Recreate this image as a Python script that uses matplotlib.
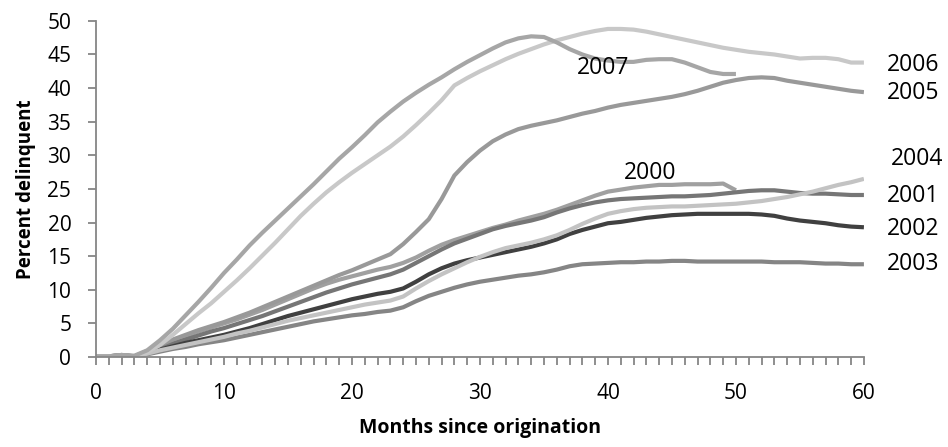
import numpy as np
import matplotlib
matplotlib.use("Agg")
import matplotlib.pyplot as plt

plt.rcParams['font.family'] = ['Open Sans', 'DejaVu Sans']

# months since origination
months = np.arange(0, 61)

# percent delinquent by vintage
y2000 = [0.1, 0.1, 0.3, 0.1, 0.8, 1.6, 2.4, 3.1, 3.8, 4.4, 5.0, 5.6, 6.3, 7.0, 7.8, 8.6,
         9.4, 10.2, 10.9, 11.5, 12.0, 12.5, 13.0, 13.4, 14.0, 14.8, 15.8, 16.7, 17.4, 18.0,
         18.6, 19.2, 19.7, 20.3, 20.8, 21.3, 21.9, 22.6, 23.3, 24.0, 24.6, 24.9, 25.2, 25.4,
         25.6, 25.6, 25.7, 25.7, 25.7, 25.8, 24.8]
y2001 = [0.1, 0.1, 0.3, 0.1, 0.7, 1.4, 2.0, 2.6, 3.2, 3.8, 4.3, 4.9, 5.5, 6.1, 6.8, 7.5,
         8.2, 8.9, 9.6, 10.2, 10.8, 11.3, 11.8, 12.3, 13.0, 14.0, 15.0, 16.0, 16.9, 17.6,
         18.3, 19.0, 19.5, 19.9, 20.3, 20.8, 21.5, 22.1, 22.6, 23.0, 23.3, 23.5, 23.6, 23.7,
         23.8, 23.9, 23.9, 24.0, 24.1, 24.3, 24.5, 24.7, 24.8, 24.8, 24.6, 24.4, 24.3, 24.3,
         24.2, 24.1, 24.1]
y2002 = [0.1, 0.1, 0.2, 0.1, 0.6, 1.1, 1.6, 2.1, 2.5, 2.9, 3.3, 3.8, 4.3, 4.9, 5.5, 6.1,
         6.6, 7.1, 7.6, 8.1, 8.6, 9.0, 9.4, 9.7, 10.2, 11.2, 12.3, 13.2, 13.9, 14.4, 14.8,
         15.2, 15.6, 16.0, 16.4, 16.9, 17.5, 18.3, 18.9, 19.4, 19.9, 20.1, 20.4, 20.7, 20.9,
         21.1, 21.2, 21.3, 21.3, 21.3, 21.3, 21.3, 21.2, 21.0, 20.6, 20.3, 20.1, 19.9, 19.6,
         19.4, 19.3]
y2003 = [0.1, 0.1, 0.2, 0.1, 0.4, 0.8, 1.2, 1.5, 1.9, 2.2, 2.5, 2.9, 3.3, 3.7, 4.1, 4.5,
         4.9, 5.3, 5.6, 5.9, 6.2, 6.4, 6.7, 6.9, 7.4, 8.3, 9.1, 9.7, 10.3, 10.8, 11.2, 11.5,
         11.8, 12.1, 12.3, 12.6, 13.0, 13.5, 13.8, 13.9, 14.0, 14.1, 14.1, 14.2, 14.2, 14.3,
         14.3, 14.2, 14.2, 14.2, 14.2, 14.2, 14.2, 14.1, 14.1, 14.1, 14.0, 13.9, 13.9, 13.8,
         13.8]
y2004 = [0.1, 0.1, 0.2, 0.1, 0.5, 1.0, 1.4, 1.8, 2.2, 2.6, 3.0, 3.5, 3.9, 4.4, 4.9, 5.4,
         5.8, 6.2, 6.6, 7.0, 7.4, 7.8, 8.1, 8.4, 9.0, 10.2, 11.3, 12.3, 13.2, 14.1, 14.9,
         15.6, 16.2, 16.6, 17.0, 17.5, 18.1, 18.9, 19.8, 20.6, 21.3, 21.7, 22.0, 22.2, 22.3,
         22.4, 22.4, 22.5, 22.6, 22.7, 22.8, 23.0, 23.2, 23.5, 23.8, 24.2, 24.6, 25.1, 25.6,
         26.0, 26.5]
y2005 = [0.1, 0.1, 0.3, 0.1, 0.9, 1.8, 2.6, 3.3, 4.0, 4.6, 5.2, 5.9, 6.6, 7.4, 8.2, 9.0,
         9.8, 10.6, 11.4, 12.2, 12.9, 13.7, 14.5, 15.3, 16.8, 18.6, 20.5, 23.5, 27.0, 29.0,
         30.7, 32.1, 33.1, 33.9, 34.4, 34.8, 35.2, 35.7, 36.2, 36.6, 37.1, 37.5, 37.8, 38.1,
         38.4, 38.7, 39.1, 39.6, 40.2, 40.8, 41.2, 41.5, 41.6, 41.5, 41.1, 40.8, 40.5, 40.2,
         39.9, 39.6, 39.4]
y2006 = [0.1, 0.1, 0.2, 0.1, 0.7, 1.8, 3.3, 4.9, 6.5, 8.0, 9.7, 11.4, 13.2, 15.1, 17.0,
         19.0, 21.0, 22.8, 24.5, 26.0, 27.4, 28.7, 30.0, 31.3, 32.8, 34.5, 36.3, 38.2, 40.4,
         41.5, 42.5, 43.4, 44.3, 45.1, 45.8, 46.5, 47.1, 47.6, 48.1, 48.5, 48.8, 48.8, 48.7,
         48.4, 48.0, 47.6, 47.2, 46.8, 46.4, 46.0, 45.7, 45.4, 45.2, 45.0, 44.7, 44.4, 44.5,
         44.5, 44.3, 43.8, 43.8]
y2007 = [0.1, 0.1, 0.3, 0.2, 1.0, 2.5, 4.2, 6.2, 8.2, 10.3, 12.5, 14.5, 16.6, 18.5, 20.3,
         22.1, 23.9, 25.7, 27.6, 29.5, 31.2, 33.0, 34.9, 36.5, 38.0, 39.3, 40.5, 41.6, 42.8,
         43.9, 44.9, 45.9, 46.8, 47.4, 47.7, 47.6, 46.8, 45.8, 45.0, 44.4, 44.1, 43.9, 43.9,
         44.2, 44.3, 44.3, 43.8, 43.1, 42.4, 42.1, 42.1]

series = [
    ('2000', y2000, '#A0A0A0'),
    ('2001', y2001, '#767676'),
    ('2002', y2002, '#404040'),
    ('2003', y2003, '#858585'),
    ('2004', y2004, '#C3C3C3'),
    ('2005', y2005, '#999999'),
    ('2006', y2006, '#C8C8C8'),
    ('2007', y2007, '#A6A6A6'),
]

fig = plt.figure(figsize=(9.48, 4.47), dpi=100)
ax = fig.add_axes([0.1013, 0.2013, 0.81, 0.752])

for name, vals, col in series:
    ax.plot(months[:len(vals)], vals, color=col, lw=3, solid_capstyle='butt')

ax.set_xlim(0, 60)
ax.set_ylim(0, 50)
ax.set_xticks(range(0, 61, 10))
ax.set_xticks(range(0, 61), minor=True)
ax.set_yticks(range(0, 51, 5))

for s in ['top', 'right']:
    ax.spines[s].set_visible(False)
for s in ['left', 'bottom']:
    ax.spines[s].set_color('#868686')
    ax.spines[s].set_linewidth(1.3)

ax.tick_params(axis='both', which='both', direction='out', color='#868686',
               width=1.3, labelsize=15)
ax.tick_params(axis='x', which='both', length=5.8, pad=13)
ax.tick_params(axis='y', length=5.8, pad=12)

ax.set_xlabel('Months since origination', fontsize=14, fontweight='bold', labelpad=10)
ax.set_ylabel('Percent delinquent', fontsize=13.5, fontweight='bold', labelpad=8)

# series labels
labels = [
    ('2007', 39.6, 43.0, 'center'),
    ('2000', 43.3, 27.4, 'center'),
    ('2006', 61.8, 43.5, 'left'),
    ('2005', 61.8, 39.3, 'left'),
    ('2004', 62.1, 29.5, 'left'),
    ('2001', 61.8, 24.0, 'left'),
    ('2002', 61.8, 19.0, 'left'),
    ('2003', 61.8, 13.8, 'left'),
]
for txt, xx, yy, ha in labels:
    ax.text(xx, yy, txt, ha=ha, va='center', fontsize=16.5, clip_on=False)

fig.savefig('out.png', dpi=100)
